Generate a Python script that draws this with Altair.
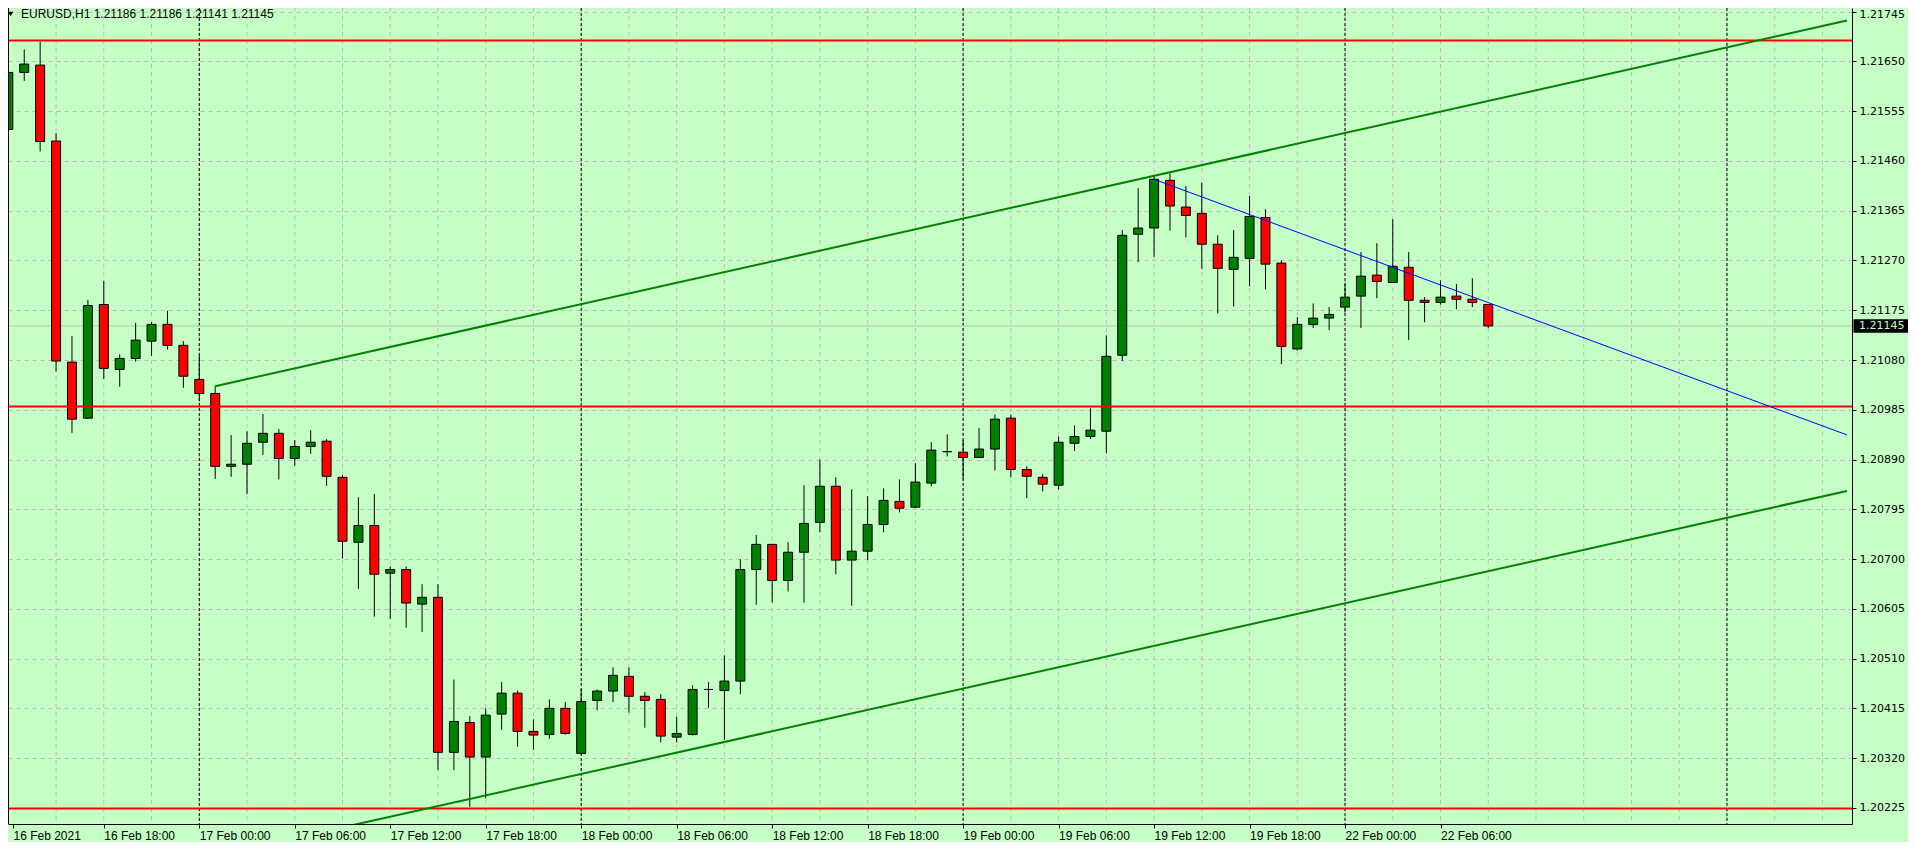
import altair as alt
import pandas as pd

# ---------------- data (EURUSD, H1) ----------------
opens = [1.21520, 1.21629, 1.21643, 1.21498, 1.21076, 1.20969, 1.21186, 1.21062, 1.21083, 1.21116,
         1.21148, 1.21108, 1.21043, 1.21016, 1.20877, 1.20881, 1.20923, 1.20940, 1.20892, 1.20915,
         1.20925, 1.20856, 1.20732, 1.20764, 1.20673, 1.20680, 1.20614, 1.20627, 1.20331, 1.20388,
         1.20322, 1.20404, 1.20444, 1.20371, 1.20365, 1.20415, 1.20329, 1.20430, 1.20448, 1.20476,
         1.20438, 1.20432, 1.20360, 1.20365, 1.20451, 1.20449, 1.20467, 1.20680, 1.20728, 1.20659,
         1.20713, 1.20770, 1.20839, 1.20698, 1.20715, 1.20766, 1.20810, 1.20799, 1.20845, 1.20905,
         1.20904, 1.20894, 1.20910, 1.20969, 1.20871, 1.20856, 1.20841, 1.20921, 1.20934, 1.20944,
         1.21089, 1.21320, 1.21332, 1.21423, 1.21372, 1.21360, 1.21301, 1.21253, 1.21274, 1.21352,
         1.21265, 1.21101, 1.21148, 1.21160, 1.21181, 1.21202, 1.21242, 1.21228, 1.21257, 1.21194,
         1.21190, 1.21202, 1.21196, 1.21186]
highs = [1.21666, 1.21673, 1.21688, 1.21513, 1.21126, 1.21195, 1.21231, 1.21091, 1.21151, 1.21152,
         1.21174, 1.21116, 1.21088, 1.21030, 1.20937, 1.20944, 1.20977, 1.20948, 1.20927, 1.20946,
         1.20929, 1.20860, 1.20818, 1.20824, 1.20686, 1.20686, 1.20652, 1.20652, 1.20470, 1.20400,
         1.20415, 1.20465, 1.20449, 1.20394, 1.20432, 1.20427, 1.20451, 1.20451, 1.20493, 1.20493,
         1.20446, 1.20442, 1.20399, 1.20459, 1.20465, 1.20516, 1.20700, 1.20746, 1.20729, 1.20732,
         1.20841, 1.20890, 1.20856, 1.20833, 1.20820, 1.20835, 1.20852, 1.20883, 1.20923, 1.20938,
         1.20927, 1.20950, 1.20976, 1.20976, 1.20877, 1.20862, 1.20934, 1.20955, 1.20988, 1.21127,
         1.21328, 1.21408, 1.21430, 1.21436, 1.21412, 1.21419, 1.21318, 1.21328, 1.21393, 1.21368,
         1.21270, 1.21162, 1.21188, 1.21181, 1.21225, 1.21286, 1.21303, 1.21349, 1.21286, 1.21200,
         1.21232, 1.21225, 1.21236, 1.21186]
lows = [1.21514, 1.21613, 1.21478, 1.21058, 1.20941, 1.20967, 1.21044, 1.21029, 1.21077, 1.21088,
        1.21100, 1.21027, 1.21002, 1.20853, 1.20857, 1.20824, 1.20899, 1.20852, 1.20878, 1.20901,
        1.20840, 1.20701, 1.20643, 1.20590, 1.20586, 1.20569, 1.20561, 1.20297, 1.20297, 1.20227,
        1.20243, 1.20374, 1.20342, 1.20336, 1.20357, 1.20365, 1.20327, 1.20411, 1.20427, 1.20407,
        1.20378, 1.20350, 1.20350, 1.20363, 1.20416, 1.20355, 1.20442, 1.20613, 1.20617, 1.20638,
        1.20617, 1.20751, 1.20671, 1.20611, 1.20698, 1.20751, 1.20789, 1.20797, 1.20839, 1.20896,
        1.20852, 1.20893, 1.20869, 1.20856, 1.20816, 1.20829, 1.20833, 1.20906, 1.20929, 1.20902,
        1.21078, 1.21267, 1.21277, 1.21327, 1.21314, 1.21254, 1.21169, 1.21182, 1.21221, 1.21215,
        1.21072, 1.21098, 1.21141, 1.21137, 1.21171, 1.21141, 1.21198, 1.21227, 1.21118, 1.21152,
        1.21186, 1.21177, 1.21181, 1.21141]
closes = [1.21629, 1.21645, 1.21497, 1.21078, 1.20967, 1.21184, 1.21064, 1.21083, 1.21118, 1.21148,
          1.21108, 1.21049, 1.21016, 1.20877, 1.20881, 1.20921, 1.20940, 1.20892, 1.20915, 1.20923,
          1.20858, 1.20734, 1.20764, 1.20671, 1.20680, 1.20616, 1.20627, 1.20331, 1.20390, 1.20322,
          1.20402, 1.20444, 1.20371, 1.20364, 1.20415, 1.20367, 1.20428, 1.20448, 1.20478, 1.20438,
          1.20430, 1.20362, 1.20367, 1.20451, 1.20451, 1.20467, 1.20680, 1.20728, 1.20659, 1.20713,
          1.20768, 1.20839, 1.20698, 1.20715, 1.20766, 1.20812, 1.20797, 1.20847, 1.20908, 1.20905,
          1.20894, 1.20910, 1.20967, 1.20871, 1.20858, 1.20843, 1.20923, 1.20934, 1.20946, 1.21087,
          1.21318, 1.21332, 1.21425, 1.21374, 1.21356, 1.21301, 1.21255, 1.21276, 1.21354, 1.21263,
          1.21106, 1.21148, 1.21160, 1.21167, 1.21200, 1.21240, 1.21230, 1.21259, 1.21194, 1.21190,
          1.21200, 1.21196, 1.21190, 1.21145]

symbol = "EURUSD"
timeframe = "H1"

# one label every 6 bars, first bar = 16 Feb 12:00
time_labels = ["16 Feb 2021", "16 Feb 18:00", "17 Feb 00:00", "17 Feb 06:00", "17 Feb 12:00",
               "17 Feb 18:00", "18 Feb 00:00", "18 Feb 06:00", "18 Feb 12:00", "18 Feb 18:00",
               "19 Feb 00:00", "19 Feb 06:00", "19 Feb 12:00", "19 Feb 18:00", "22 Feb 00:00",
               "22 Feb 06:00"]
label_step = 6

price_ticks = [1.20225, 1.20320, 1.20415, 1.20510, 1.20605, 1.20700, 1.20795, 1.20890, 1.20985,
               1.21080, 1.21175, 1.21270, 1.21365, 1.21460, 1.21555, 1.21650, 1.21745]

level_prices = [1.21690, 1.20991, 1.20224]      # red horizontal lines
bid_price = 1.21145
day_starts = [12, 36, 60, 84, 108]             # bar index of each day's 00:00
grid_bars = list(range(0, 116, 3))

channel_names = ["upper", "upper", "lower", "lower"]
channel_idx = [13, 115.54, 20, 115.54]
channel_px = [1.21030, 1.21728, 1.20181, 1.20830]
blue_idx = [72, 115.54]
blue_px = [1.21425, 1.20937]

# ---------------- layout / style ----------------
W, H = 1844, 816
X_DOM = [0.29375, 115.54375]
Y_DOM = [1.201942, 1.21752]
BG = "#c6ffc6"
GRID = "#c3b9c6"
UP = "#008000"
DOWN = "#ff0000"

candles = pd.DataFrame({"idx": list(range(len(opens))), "open": opens, "high": highs,
                        "low": lows, "close": closes})
vgrid_df = pd.DataFrame({"idx": grid_bars})
day_df = pd.DataFrame({"idx": day_starts})
level_df = pd.DataFrame({"price": level_prices})
bid_df = pd.DataFrame({"price": [bid_price], "txt": [f"{bid_price:.5f}"]})
chan_df = pd.DataFrame({"line": channel_names, "idx": channel_idx, "price": channel_px})
blue_df = pd.DataFrame({"idx": blue_idx, "price": blue_px})
o, h, l, c = opens[-1], highs[-1], lows[-1], closes[-1]
title_df = pd.DataFrame({"t": [f"{symbol},{timeframe}  {o:.5f} {h:.5f} {l:.5f} {c:.5f}"]})

x_vals = [max(i * label_step, X_DOM[0]) for i in range(len(time_labels))]
label_arr = "[" + ",".join("'" + s + "'" for s in time_labels) + "]"
x_axis = alt.Axis(values=x_vals, labelExpr=label_arr + f"[round(datum.value / {label_step})]",
                  labelAlign="left", labelBaseline="top", labelFont="Liberation Sans",
                  labelFontSize=12, labelColor="black", labelPadding=2, tickColor="black",
                  tickSize=4, domainColor="black", domainWidth=1, grid=False, title=None,
                  labelOverlap=False, labelFlush=False)
y_axis = alt.Axis(orient="right", values=price_ticks, format=".5f", labelFont="DejaVu Sans",
                  labelFontSize=11, labelColor="black", labelPadding=3, tickSize=4,
                  tickColor="black", domainColor="black", domainWidth=1, grid=True,
                  gridDash=[4, 4], gridColor=GRID, gridWidth=1, title=None,
                  labelOverlap=False, labelFlush=False,
                  labelOffset={"condition": {"test": f"datum.value > {price_ticks[-1] - 0.00001}",
                                             "value": 3}, "value": 0})
xs = alt.Scale(domain=X_DOM, nice=False, zero=False)
ys = alt.Scale(domain=Y_DOM, nice=False, zero=False)


def X(field="idx"):
    return alt.X(f"{field}:Q", scale=xs, axis=x_axis)


def Y(field):
    return alt.Y(f"{field}:Q", scale=ys, axis=y_axis)


vgrid = alt.Chart(vgrid_df).mark_rule(color=GRID, strokeWidth=1, strokeDash=[4, 4], clip=True).encode(x=X())
days = alt.Chart(day_df).mark_rule(color="black", strokeWidth=1, strokeDash=[3, 2], clip=True).encode(x=X())
bidline = alt.Chart(bid_df).mark_rule(color="#c0c0c0", strokeWidth=1).encode(y=Y("price"))
wicks = alt.Chart(candles).mark_rule(color="black", strokeWidth=1, clip=True).encode(
    x=X(), y=Y("low"), y2="high:Q")
bodies = alt.Chart(candles).mark_bar(size=9, stroke="black", strokeWidth=1, clip=True).encode(
    x=X(), y=Y("open"), y2="close:Q",
    fill=alt.condition("datum.close > datum.open", alt.value(UP), alt.value(DOWN)))
levels = alt.Chart(level_df).mark_rule(color="#ff0000", strokeWidth=2).encode(y=Y("price"))
channel = alt.Chart(chan_df).mark_line(color="#008000", strokeWidth=2, clip=True).encode(
    x=X(), y=Y("price"), detail="line:N")
blue = alt.Chart(blue_df).mark_line(color="#0000ff", strokeWidth=1, clip=True).encode(
    x=X(), y=Y("price"))
bidbox = alt.Chart(bid_df).mark_point(
    shape="M-1,-0.245L1,-0.245L1,0.245L-1,0.245Z", filled=True, size=3025, color="black",
    opacity=1).encode(x=alt.value(W + 29), y=Y("price"))
bidtext = alt.Chart(bid_df).mark_text(align="left", baseline="middle", font="DejaVu Sans",
                                      fontSize=11, color=BG).encode(
    x=alt.value(W + 7), y=Y("price"), text="txt:N")
tri = alt.Chart(title_df).mark_point(shape="triangle-down", filled=True, size=28, color="black",
                                     opacity=1).encode(x=alt.value(2.7), y=alt.value(6))
title_txt = alt.Chart(title_df).mark_text(align="left", baseline="top", font="Liberation Sans",
                                          fontSize=12, color="black").encode(
    x=alt.value(13), y=alt.value(0.5), text="t:N")
left_border = alt.Chart(title_df).mark_rule(color="black", strokeWidth=1).encode(
    x=alt.value(0.5), y=alt.value(0), y2=alt.value(H))

chart = alt.layer(vgrid, days, bidline, wicks, bodies, levels, channel, blue, bidbox, bidtext,
                  tri, title_txt, left_border).properties(
    width=W, height=H,
    autosize=alt.AutoSizeParams(type="none"),
    padding={"left": 0, "top": 0, "right": 56, "bottom": 18},
    background=BG,
).configure_view(strokeWidth=0)

chart.save("out.html", embed_options={"renderer": "svg", "actions": False})
